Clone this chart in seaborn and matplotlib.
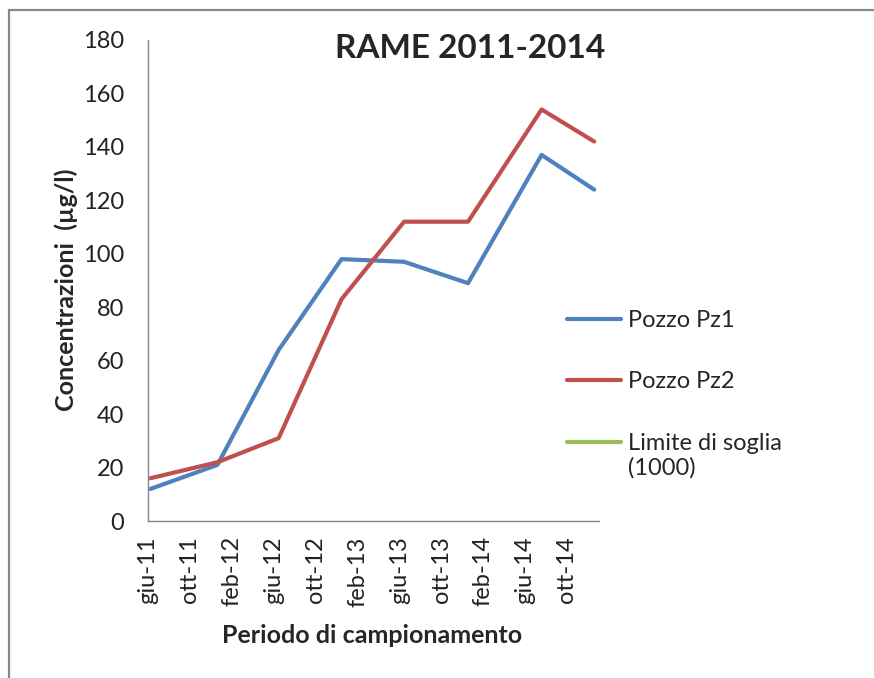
import numpy as np
import pandas as pd
import matplotlib
matplotlib.use("Agg")
import matplotlib.pyplot as plt
import matplotlib.dates as mdates
from matplotlib.patches import Rectangle
from matplotlib.lines import Line2D
from matplotlib.legend_handler import HandlerLine2D
import seaborn as sns

# ---- data ----
dates = ["2011-06-08", "2011-12-20", "2012-06-15", "2012-12-15",
         "2013-06-15", "2013-12-18", "2014-07-20", "2014-12-20"]
pz1 = [12, 21, 64, 98, 97, 89, 137, 124]
pz2 = [16, 22, 31, 83, 112, 112, 154, 142]
soglia = [1000, 1000, 1000, 1000, 1000, 1000, 1000, 1000]
series_names = ["Pozzo Pz1", "Pozzo Pz2", "Limite di soglia\n(1000)"]
colors = ["#4F81BD", "#C0504D", "#9BBB59"]
it_months = ["gen", "feb", "mar", "apr", "mag", "giu",
             "lug", "ago", "set", "ott", "nov", "dic"]
y_ticks = [0, 20, 40, 60, 80, 100, 120, 140, 160, 180]
x_start, x_end = "2011-06-01", "2015-01-03"
title = "RAME 2011-2014"
xlabel = "Periodo di campionamento"
ylabel = "Concentrazioni  (µg/l)"

df = pd.DataFrame({
    "data": pd.to_datetime(dates * 3),
    "valore": pz1 + pz2 + soglia,
    "serie": [series_names[0]] * len(dates) + [series_names[1]] * len(dates)
             + [series_names[2]] * len(dates),
})

sns.set_style("white")
plt.rcParams["font.family"] = ["Lato", "DejaVu Sans"]

W, H = 874, 678
fig = plt.figure(figsize=(W / 100, H / 100), dpi=100)
ax = fig.add_axes([148 / W, (H - 521) / H, (599 - 148) / W, (521 - 40) / H])

sns.lineplot(data=df, x="data", y="valore", hue="serie",
             palette=dict(zip(series_names, colors)), linewidth=3,
             ax=ax, legend=False, solid_capstyle="round", solid_joinstyle="round")

ax.set_xlim(pd.Timestamp(x_start), pd.Timestamp(x_end))
ax.set_ylim(0, 180)
ax.set_yticks(y_ticks)
ax.xaxis.set_major_locator(mdates.MonthLocator(bymonth=[2, 6, 10], bymonthday=1))
ax.xaxis.set_major_formatter(plt.FuncFormatter(
    lambda v, p: f"{it_months[mdates.num2date(v).month - 1]}-{mdates.num2date(v).year % 100:02d}"))

gray = "#868686"
for s in ["top", "right"]:
    ax.spines[s].set_visible(False)
for s in ["left", "bottom"]:
    ax.spines[s].set_color(gray)
    ax.spines[s].set_linewidth(1.0)
ax.tick_params(axis="both", direction="out", length=5, width=1.0, color=gray,
               labelsize=17, labelcolor="#222222")
ax.tick_params(axis="x", labelrotation=90, pad=6)
ax.tick_params(axis="y", pad=12)
ax.grid(False)

ax.set_xlabel(xlabel, fontsize=18, fontweight="bold")
ax.set_ylabel(ylabel, fontsize=18, fontweight="bold")
ax.xaxis.set_label_coords(0.5 * (223 + 522) / 451 - 148 / 451, -0.214)
ax.yaxis.set_label_coords(-0.155, (521 - 290) / 481)
fig.text(470 / W, 1 - 49 / H, title, fontsize=24, fontweight="bold",
         ha="center", va="center")


class UpHandler(HandlerLine2D):
    def __init__(self, shift=0.0, **kw):
        super().__init__(**kw)
        self.shift = shift

    def create_artists(self, legend, orig_handle, xdescent, ydescent,
                       width, height, fontsize, trans):
        arts = super().create_artists(legend, orig_handle, xdescent, ydescent,
                                      width, height, fontsize, trans)
        for a in arts:
            a.set_ydata(np.asarray(a.get_ydata(), dtype=float) + self.shift)
        return arts


handles = [Line2D([], [], color=c, lw=3, solid_capstyle="round") for c in colors]
leg = fig.legend(handles, series_names, loc="upper left",
                 bbox_to_anchor=(567 / W, 1 - 310 / H), frameon=False,
                 fontsize=17, handlelength=2.3, handletextpad=0.3,
                 labelspacing=1.71, borderpad=0, borderaxespad=0,
                 handler_map={handles[2]: UpHandler(shift=10.2)})

fig.add_artist(Rectangle((9 / W, -0.1), 2, 1 - 10 / H + 0.1,
                         transform=fig.transFigure, fill=False,
                         edgecolor="#888888", lw=1.6))

fig.savefig("out.png", dpi=100)
